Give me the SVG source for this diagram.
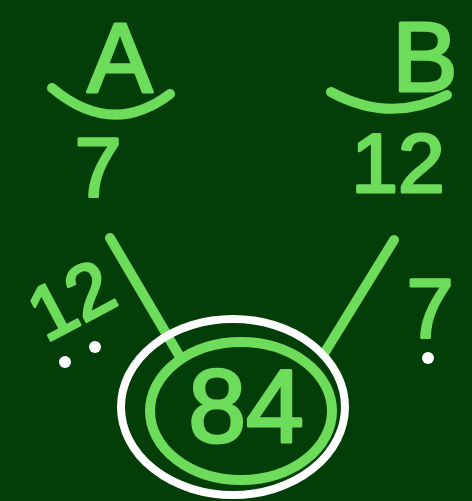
<svg xmlns="http://www.w3.org/2000/svg" width="472" height="501" viewBox="0 0 472 501">
<style>
.t{font-family:"Liberation Sans",Arial,sans-serif;fill:#6ddc5b;stroke:#6ddc5b;stroke-width:3;stroke-linejoin:round;text-anchor:middle}
.s{fill:none;stroke:#6ddc5b;stroke-width:10;stroke-linecap:round}
.d{fill:#ffffff}
</style>
<rect width="472" height="501" fill="#033d08"/>
<g id="nodeA">
<text class="t" x="120" y="92" font-size="98">A</text>
<path class="s" d="M52,88 Q112,138 170,94"/>
<text class="t" x="98" y="196" font-size="84">7</text>
</g>
<g id="nodeB">
<text class="t" x="425" y="91" font-size="98">B</text>
<path class="s" d="M331,92 Q390,124 447,95"/>
<text class="t" x="398" y="192" font-size="84">12</text>
</g>
<g id="connectors">
<line class="s" x1="110" y1="238" x2="180" y2="357"/>
<line class="s" x1="394" y1="240" x2="325" y2="352"/>
</g>
<g id="labelLeft">
<text class="t" x="72" y="326" font-size="76" transform="rotate(-28 72 302)">12</text>
<circle class="d" cx="65" cy="362" r="6"/>
<circle class="d" cx="95" cy="347" r="6"/>
</g>
<g id="labelRight">
<text class="t" x="430" y="337" font-size="84">7</text>
<circle class="d" cx="428" cy="358" r="6"/>
</g>
<g id="result">
<ellipse cx="233" cy="407" rx="112" ry="88" fill="none" stroke="#ffffff" stroke-width="8"/>
<ellipse cx="241" cy="411" rx="91" ry="69" class="s" stroke-width="9"/>
<text class="t" x="246" y="442" font-size="104">84</text>
</g>
</svg>
